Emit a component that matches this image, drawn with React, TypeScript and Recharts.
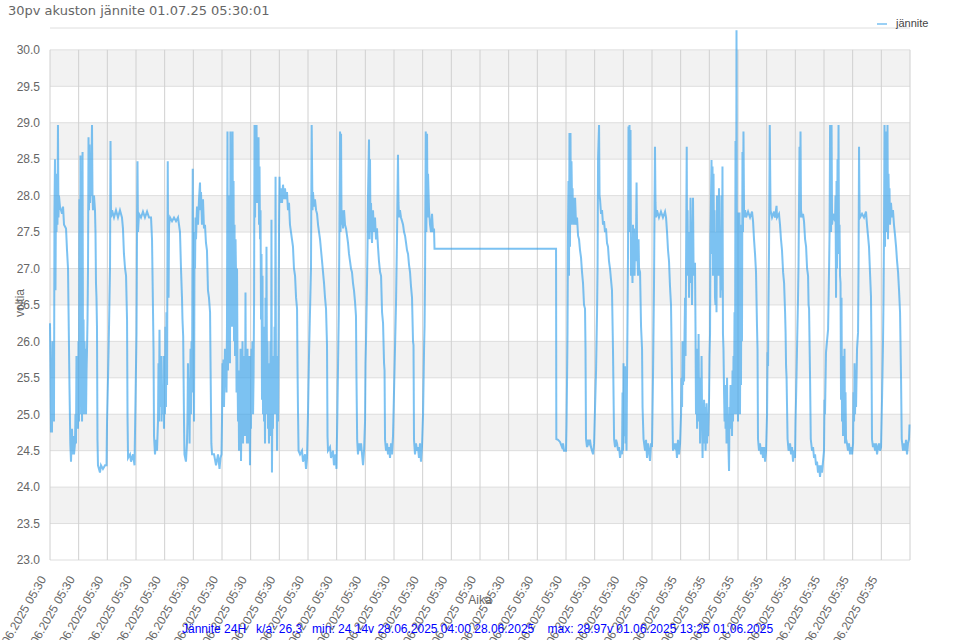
import {CartesianGrid, Line, LineChart, ReferenceLine, XAxis, YAxis} from "recharts";

// 5 minute log, 288 samples per day, started 01.06.2025 05:30
const SAMPLES_PER_DAY = 288;
const TOTAL_SAMPLES = 8640;

const chartTitle = "30pv akuston jännite 01.07.25 05:30:01";
const seriesName = "jännite";
const footerText = "Jännite 24H   k/a: 26.3   min: 24.14v 28.06.2025 04:00 28.06.2025    max: 28.97v 01.06.2025 13:25 01.06.2025";

const dayLabels = [
    "01.06.2025 05:30", "02.06.2025 05:30", "03.06.2025 05:30", "04.06.2025 05:30", "05.06.2025 05:30",
    "06.06.2025 05:30", "07.06.2025 05:30", "08.06.2025 05:30", "09.06.2025 05:30", "10.06.2025 05:30",
    "11.06.2025 05:30", "12.06.2025 05:30", "13.06.2025 05:30", "14.06.2025 05:30", "15.06.2025 05:30",
    "16.06.2025 05:30", "17.06.2025 05:30", "18.06.2025 05:30", "19.06.2025 05:30", "20.06.2025 05:30",
    "21.06.2025 05:30", "22.06.2025 05:30", "23.06.2025 05:35", "24.06.2025 05:35", "25.06.2025 05:35",
    "26.06.2025 05:35", "27.06.2025 05:35", "28.06.2025 05:35", "29.06.2025 05:35", "30.06.2025 05:35",
];

const voltTicks = [23, 23.5, 24, 24.5, 25, 25.5, 26, 26.5, 27, 27.5, 28, 28.5, 29, 29.5, 30];

// [sample number, volts]
const readings: [number, number][] = [
    [0, 26.25], [5, 25.6], [10, 24.75], [15, 25.4], [20, 24.75], [25, 26.0], [30, 25.2], [35, 25.7], [40, 24.9],
    [45, 27.8], [50, 28.5], [55, 26.7], [60, 28.0], [65, 27.5], [70, 28.3], [75, 27.6], [80, 28.97], [85, 27.7],
    [90, 28.0], [100, 27.85], [121, 27.75], [131, 27.85], [141, 27.6], [161, 27.55], [171, 27.25], [181, 27.0],
    [186, 26.45], [191, 25.9], [196, 25.35], [204, 24.6], [211, 24.35], [221, 24.8], [226, 24.45], [236, 24.7],
    [241, 24.45], [251, 24.6], [256, 25.0], [261, 24.6], [266, 25.8], [271, 24.9], [276, 25.6], [281, 24.8],
    [286, 26.0], [291, 24.9], [296, 27.95], [301, 25.0], [306, 28.55], [311, 25.2], [316, 27.0], [322, 24.9],
    [327, 28.6], [332, 25.3], [337, 26.3], [342, 25.0], [347, 26.0], [352, 25.3], [357, 25.9], [362, 25.0],
    [367, 25.6], [372, 25.9], [377, 26.3], [382, 27.0], [387, 28.8], [392, 27.8], [397, 28.7], [402, 27.9],
    [407, 28.5], [412, 28.0], [422, 28.97], [427, 28.0], [432, 27.8], [442, 28.0], [452, 27.8], [457, 27.5],
    [462, 26.8], [467, 26.6], [472, 26.2], [477, 24.65], [482, 24.3], [502, 24.2], [512, 24.3], [532, 24.25],
    [553, 24.3], [568, 24.3], [573, 24.9], [583, 25.5], [593, 26.2], [603, 27.0], [608, 28.75], [613, 27.7],
    [623, 27.8], [643, 27.7], [663, 27.8], [683, 27.7], [703, 27.8], [723, 27.7], [733, 27.55], [743, 27.2],
    [754, 27.0], [764, 26.9], [774, 26.3], [779, 24.95], [784, 24.4], [804, 24.45], [814, 24.35], [834, 24.45],
    [849, 24.3], [859, 25.2], [869, 26.1], [874, 27.4], [879, 28.47], [884, 27.5], [894, 27.75], [914, 27.7],
    [934, 27.78], [954, 27.7], [975, 27.78], [995, 27.7], [1015, 27.7], [1025, 27.4], [1030, 26.9], [1035, 26.4],
    [1040, 25.9], [1045, 24.7], [1055, 24.45], [1065, 24.65], [1075, 24.5], [1085, 24.9], [1090, 25.7],
    [1095, 24.9], [1100, 26.16], [1105, 25.1], [1115, 25.8], [1120, 24.9], [1125, 25.4], [1135, 25.0],
    [1140, 25.8], [1145, 24.8], [1150, 25.7], [1155, 25.0], [1160, 26.2], [1165, 25.1], [1170, 26.4],
    [1176, 25.4], [1183, 28.47], [1186, 27.4], [1191, 26.6], [1196, 27.6], [1206, 27.7], [1226, 27.65],
    [1246, 27.7], [1266, 27.65], [1286, 27.7], [1306, 27.5], [1316, 27.0], [1326, 26.6], [1331, 26.3],
    [1338, 26.07], [1346, 24.93], [1351, 24.45], [1366, 24.35], [1376, 24.6], [1381, 24.9], [1386, 25.7],
    [1391, 24.9], [1397, 25.5], [1402, 24.6], [1407, 25.3], [1412, 25.9], [1417, 25.0], [1422, 26.0],
    [1427, 25.3], [1434, 28.37], [1437, 26.5], [1442, 27.1], [1447, 24.9], [1452, 27.5], [1457, 27.0],
    [1462, 27.7], [1467, 27.4], [1477, 27.85], [1487, 27.6], [1497, 27.95], [1507, 28.18], [1512, 27.8],
    [1517, 28.05], [1527, 27.6], [1537, 27.95], [1547, 27.55], [1557, 27.6], [1567, 27.35], [1577, 27.25],
    [1587, 26.7], [1597, 26.6], [1608, 26.4], [1615, 25.4], [1621, 24.6], [1628, 24.45], [1648, 24.45],
    [1668, 24.3], [1688, 24.45], [1703, 24.25], [1713, 24.4], [1723, 24.45], [1728, 24.9], [1733, 25.7],
    [1738, 25.3], [1743, 25.75], [1748, 25.1], [1753, 25.5], [1758, 25.9], [1768, 25.6], [1773, 25.3],
    [1778, 26.2], [1783, 28.88], [1788, 25.6], [1793, 27.5], [1798, 26.0], [1803, 28.0], [1808, 25.7],
    [1813, 28.88], [1818, 26.4], [1824, 27.9], [1829, 26.2], [1834, 28.88], [1839, 26.8], [1844, 28.2],
    [1849, 26.0], [1854, 27.6], [1859, 25.8], [1864, 27.4], [1869, 26.9], [1874, 25.3], [1879, 27.0],
    [1884, 25.6], [1889, 24.9], [1894, 25.6], [1899, 24.5], [1904, 25.3], [1909, 24.9], [1914, 25.9],
    [1919, 24.36], [1924, 25.2], [1929, 24.8], [1934, 26.0], [1939, 24.6], [1944, 25.5], [1949, 24.9],
    [1954, 25.8], [1959, 24.7], [1964, 26.67], [1969, 24.9], [1974, 25.6], [1979, 24.6], [1984, 25.9],
    [1989, 24.8], [1994, 25.3], [1999, 24.6], [2004, 25.8], [2009, 24.3], [2014, 25.2], [2019, 24.8],
    [2024, 25.9], [2029, 25.3], [2034, 26.0], [2040, 25.0], [2045, 25.5], [2050, 26.5], [2055, 28.97],
    [2060, 27.7], [2065, 28.9], [2070, 28.2], [2075, 28.97], [2080, 27.9], [2085, 28.7], [2090, 28.1],
    [2095, 28.8], [2100, 27.6], [2105, 28.4], [2110, 27.4], [2115, 27.8], [2120, 26.3], [2125, 27.2],
    [2130, 25.2], [2135, 26.9], [2140, 25.0], [2145, 26.2], [2150, 24.9], [2155, 25.6], [2160, 24.6],
    [2165, 26.6], [2170, 25.0], [2175, 27.3], [2180, 25.4], [2185, 26.0], [2190, 24.8], [2195, 25.7],
    [2200, 24.6], [2205, 25.3], [2210, 24.8], [2215, 26.0], [2220, 24.7], [2225, 27.67], [2230, 24.2],
    [2235, 25.4], [2240, 24.8], [2246, 25.8], [2251, 25.0], [2256, 26.2], [2261, 25.3], [2266, 28.26],
    [2271, 25.0], [2276, 25.8], [2281, 24.5], [2286, 25.7], [2291, 24.9], [2296, 26.0], [2301, 27.6],
    [2306, 28.26], [2311, 27.9], [2321, 28.1], [2331, 27.9], [2341, 28.15], [2351, 27.95], [2361, 28.1],
    [2371, 27.95], [2381, 28.05], [2391, 27.8], [2401, 27.9], [2411, 27.6], [2421, 27.5], [2431, 27.4],
    [2441, 27.3], [2451, 27.0], [2462, 26.9], [2472, 26.6], [2482, 26.45], [2487, 25.6], [2492, 25.0],
    [2497, 24.5], [2512, 24.45], [2532, 24.5], [2542, 24.35], [2562, 24.45], [2572, 24.25], [2582, 24.4],
    [2592, 25.0], [2602, 25.8], [2612, 26.4], [2622, 27.0], [2629, 28.97], [2637, 27.8], [2642, 28.05],
    [2652, 27.85], [2662, 27.95], [2673, 27.8], [2683, 27.75], [2693, 27.6], [2703, 27.5], [2713, 27.4],
    [2723, 27.25], [2733, 27.1], [2743, 26.95], [2753, 26.8], [2763, 26.6], [2773, 26.45], [2783, 25.95],
    [2788, 24.7], [2793, 24.5], [2813, 24.55], [2823, 24.4], [2843, 24.5], [2853, 24.3], [2868, 24.45],
    [2878, 24.25], [2888, 25.1], [2894, 25.7], [2901, 26.35], [2907, 27.4], [2914, 28.88], [2919, 27.5],
    [2924, 28.85], [2929, 27.6], [2934, 27.8], [2944, 27.55], [2954, 27.8], [2964, 27.6], [2974, 27.55],
    [2984, 27.45], [2994, 27.35], [3004, 27.2], [3014, 27.1], [3024, 27.0], [3034, 26.95], [3044, 26.8],
    [3054, 26.7], [3064, 26.55], [3074, 26.35], [3079, 25.5], [3086, 24.65], [3094, 24.45], [3104, 24.6],
    [3115, 24.5], [3125, 24.6], [3135, 24.45], [3145, 24.3], [3155, 24.5], [3165, 24.9], [3170, 25.7],
    [3175, 26.0], [3185, 26.8], [3190, 27.3], [3195, 28.0], [3205, 28.77], [3210, 27.4], [3215, 28.5],
    [3220, 27.5], [3225, 27.9], [3235, 27.35], [3245, 27.8], [3255, 27.5], [3265, 27.7], [3275, 27.4],
    [3285, 27.55], [3295, 27.3], [3305, 27.1], [3316, 26.95], [3326, 26.9], [3336, 26.4], [3346, 26.25],
    [3356, 25.7], [3361, 25.6], [3366, 24.65], [3376, 24.5], [3386, 24.6], [3396, 24.45], [3406, 24.55],
    [3416, 24.4], [3426, 24.6], [3436, 24.45], [3446, 24.7], [3456, 25.3], [3466, 25.9], [3476, 26.5],
    [3486, 27.4], [3496, 28.56], [3501, 27.9], [3506, 27.7], [3516, 27.8], [3526, 27.7], [3537, 27.65],
    [3547, 27.6], [3557, 27.5], [3567, 27.45], [3577, 27.35], [3587, 27.25], [3597, 27.2], [3607, 27.05],
    [3617, 26.95], [3627, 26.75], [3637, 26.6], [3647, 26.0], [3652, 25.95], [3657, 24.65], [3667, 24.45],
    [3677, 24.6], [3687, 24.5], [3697, 24.55], [3707, 24.4], [3717, 24.6], [3727, 24.35], [3737, 24.55],
    [3748, 25.0], [3758, 25.9], [3763, 26.2], [3768, 26.9], [3775, 28.88], [3781, 27.5], [3788, 28.85],
    [3793, 27.7], [3798, 28.3], [3808, 27.8], [3818, 27.6], [3828, 27.5], [3838, 27.75], [3848, 27.5],
    [3858, 27.55], [3863, 27.27],
    // logger stalled, last value repeated
    [5084, 27.27],
    [5087, 24.66], [5104, 24.65], [5124, 24.62], [5144, 24.55], [5154, 24.6], [5164, 24.5], [5184, 24.5],
    [5189, 24.85], [5194, 25.4], [5199, 26.1], [5204, 27.5], [5209, 28.2], [5214, 26.9], [5219, 28.86],
    [5224, 27.3], [5229, 28.86], [5234, 27.6], [5239, 28.47], [5245, 27.9], [5250, 28.1], [5255, 27.6],
    [5260, 27.97], [5265, 27.6], [5275, 27.97], [5285, 27.6], [5295, 27.7], [5305, 27.45], [5315, 27.4],
    [5325, 27.25], [5335, 27.15], [5345, 26.95], [5355, 26.8], [5365, 26.5], [5375, 26.45], [5380, 25.9],
    [5385, 24.66], [5395, 24.55], [5405, 24.65], [5415, 24.6], [5425, 24.65], [5435, 24.55], [5445, 24.5],
    [5456, 24.45], [5466, 24.6], [5476, 25.1], [5486, 25.6], [5496, 26.4], [5501, 27.0], [5506, 28.5],
    [5516, 28.97], [5521, 28.0], [5526, 27.95], [5536, 27.75], [5546, 27.8], [5556, 27.6], [5566, 27.65],
    [5576, 27.5], [5586, 27.55], [5596, 27.35], [5606, 27.3], [5616, 27.1], [5626, 27.0], [5636, 26.85],
    [5646, 26.7], [5656, 25.9], [5667, 24.66], [5677, 24.55], [5687, 24.65], [5697, 24.6], [5707, 24.5],
    [5717, 24.55], [5727, 24.4], [5737, 24.5], [5747, 24.45], [5752, 25.3], [5757, 24.5], [5762, 25.7],
    [5767, 24.7], [5772, 25.1], [5777, 25.66], [5782, 24.6], [5787, 25.3], [5792, 24.5], [5797, 25.5],
    [5802, 26.3], [5807, 27.2], [5812, 28.95], [5817, 28.2], [5822, 28.97], [5827, 27.5], [5832, 28.9],
    [5837, 26.9], [5847, 27.1], [5852, 26.8], [5857, 27.6], [5862, 27.0], [5867, 27.55], [5873, 26.9],
    [5878, 27.45], [5883, 27.1], [5888, 27.5], [5893, 28.18], [5898, 27.3], [5908, 26.9], [5913, 27.4],
    [5918, 27.0], [5928, 26.95], [5938, 26.2], [5948, 25.9], [5953, 25.1], [5963, 24.66], [5978, 24.5],
    [5988, 24.65], [5998, 24.4], [6008, 24.6], [6018, 24.5], [6028, 24.36], [6038, 24.6], [6048, 24.55],
    [6058, 25.5], [6068, 26.75], [6078, 28.67], [6083, 27.9], [6088, 27.7], [6098, 27.8], [6118, 27.7],
    [6138, 27.78], [6158, 27.7], [6179, 27.78], [6189, 27.7], [6199, 27.5], [6209, 27.25], [6219, 27.1],
    [6229, 26.75], [6239, 26.5], [6244, 26.0], [6254, 24.93], [6259, 24.5], [6269, 24.6], [6279, 24.55],
    [6289, 24.6], [6299, 24.4], [6309, 24.65], [6319, 24.45], [6330, 24.6], [6340, 25.0], [6345, 25.5],
    [6350, 25.1], [6355, 26.0], [6360, 25.4], [6365, 25.9], [6370, 25.45], [6375, 26.1], [6380, 26.6],
    [6385, 25.8], [6390, 27.0], [6397, 28.67], [6400, 27.2], [6405, 27.8], [6410, 26.9], [6415, 27.5],
    [6420, 26.6], [6425, 27.3], [6430, 26.8], [6435, 27.97], [6440, 27.0], [6445, 27.6], [6450, 26.5],
    [6455, 27.4], [6460, 27.97], [6465, 27.1], [6470, 26.9], [6480, 27.08], [6485, 26.2], [6490, 25.0],
    [6495, 25.9], [6501, 24.8], [6506, 25.6], [6511, 24.9], [6516, 26.1], [6521, 25.0], [6526, 25.5],
    [6531, 24.6], [6536, 25.2], [6541, 24.9], [6546, 25.8], [6551, 25.0], [6556, 24.4], [6561, 25.1],
    [6566, 24.6], [6571, 25.2], [6576, 24.8], [6581, 25.1], [6586, 24.5], [6591, 24.9], [6596, 25.15],
    [6601, 24.6], [6606, 25.0], [6611, 24.7], [6621, 25.2], [6626, 25.8], [6631, 26.1], [6636, 27.5],
    [6641, 28.0], [6646, 28.49], [6651, 27.2], [6656, 28.4], [6661, 26.9], [6666, 28.3], [6671, 27.3],
    [6676, 27.8], [6681, 26.6], [6686, 26.5], [6691, 27.5], [6696, 26.4], [6701, 28.0], [6706, 26.9],
    [6711, 27.3], [6716, 27.0], [6721, 28.1], [6726, 26.9], [6731, 27.4], [6736, 26.6], [6741, 27.0],
    [6746, 28.0], [6751, 26.7], [6756, 28.4], [6761, 26.1], [6766, 25.9], [6772, 25.3], [6777, 24.9],
    [6782, 25.4], [6787, 24.8], [6792, 25.2], [6797, 24.6], [6802, 25.5], [6807, 24.7], [6812, 25.0],
    [6817, 24.5], [6822, 24.22], [6827, 25.1], [6832, 24.8], [6837, 25.4], [6842, 24.9], [6847, 25.3],
    [6852, 24.7], [6857, 25.6], [6862, 24.9], [6867, 25.8], [6872, 25.0], [6877, 26.4], [6882, 25.2],
    [6887, 28.75], [6892, 25.0], [6897, 30.27], [6902, 25.1], [6907, 27.77], [6912, 24.9], [6917, 27.7],
    [6922, 25.3], [6927, 27.77], [6932, 25.0], [6937, 26.5], [6942, 25.4], [6947, 27.6], [6952, 26.0],
    [6957, 28.6], [6962, 27.5], [6967, 28.88], [6973, 27.7], [6983, 27.8], [6993, 27.7], [7013, 27.78],
    [7033, 27.7], [7053, 27.78], [7063, 27.65], [7073, 27.4], [7083, 27.2], [7093, 26.95], [7103, 26.2],
    [7108, 25.9], [7113, 24.66], [7123, 24.5], [7133, 24.6], [7143, 24.45], [7153, 24.55], [7163, 24.4],
    [7174, 24.55], [7184, 24.35], [7194, 24.5], [7204, 25.0], [7209, 25.85], [7214, 25.66], [7219, 26.58],
    [7224, 27.3], [7231, 28.97], [7239, 27.8], [7254, 27.7], [7274, 27.78], [7284, 27.7], [7299, 27.86],
    [7304, 27.7], [7324, 27.75], [7334, 27.6], [7344, 27.4], [7354, 27.25], [7365, 26.95], [7375, 26.8],
    [7385, 26.4], [7390, 26.12], [7395, 25.66], [7400, 25.5], [7410, 24.66], [7420, 24.5], [7435, 24.6],
    [7445, 24.45], [7455, 24.55], [7465, 24.35], [7475, 24.5], [7485, 24.4], [7490, 24.9], [7495, 25.2],
    [7505, 25.9], [7515, 26.6], [7520, 27.03], [7530, 28.67], [7535, 27.7], [7540, 28.88], [7545, 27.8],
    [7555, 27.7], [7565, 27.75], [7575, 27.65], [7586, 27.4], [7596, 27.3], [7606, 27.0], [7616, 26.9],
    [7621, 26.5], [7626, 26.45], [7636, 25.5], [7643, 24.66], [7656, 24.5], [7666, 24.55], [7676, 24.4],
    [7686, 24.45], [7696, 24.3], [7706, 24.35], [7716, 24.2], [7726, 24.3], [7736, 24.14], [7746, 24.3],
    [7756, 24.2], [7766, 24.35], [7776, 24.5], [7781, 25.2], [7786, 25.0], [7796, 25.85], [7806, 26.0],
    [7817, 26.16], [7827, 27.0], [7832, 27.5], [7837, 28.97], [7847, 27.5], [7852, 28.97], [7857, 27.6],
    [7867, 27.75], [7877, 27.7], [7887, 27.65], [7892, 28.0], [7897, 26.6], [7902, 28.2], [7907, 27.0],
    [7912, 28.5], [7917, 27.3], [7922, 28.97], [7927, 27.2], [7932, 27.6], [7937, 26.9], [7942, 26.8],
    [7947, 25.2], [7952, 26.6], [7957, 24.9], [7962, 25.8], [7967, 24.7], [7972, 25.5], [7977, 24.8],
    [7982, 25.9], [7987, 24.6], [7992, 25.3], [7997, 24.66], [8007, 24.6], [8017, 24.5], [8027, 24.6],
    [8038, 24.45], [8048, 24.55], [8058, 24.45], [8068, 24.6], [8073, 25.3], [8078, 24.9], [8083, 25.7],
    [8088, 25.0], [8093, 25.6], [8098, 25.1], [8108, 25.9], [8118, 26.12], [8123, 27.0], [8128, 28.67],
    [8133, 27.8], [8138, 27.7], [8158, 27.75], [8178, 27.7], [8198, 27.78], [8208, 27.6], [8218, 27.45],
    [8228, 27.3], [8238, 26.95], [8248, 26.62], [8253, 25.9], [8258, 24.66], [8268, 24.55], [8278, 24.6],
    [8289, 24.5], [8299, 24.6], [8309, 24.45], [8319, 24.55], [8329, 24.6], [8339, 24.5], [8349, 24.55],
    [8359, 25.2], [8369, 26.0], [8374, 26.6], [8379, 27.5], [8384, 28.97], [8389, 27.3], [8394, 28.88],
    [8399, 27.5], [8404, 28.6], [8409, 27.6], [8414, 28.97], [8419, 27.4], [8424, 28.3], [8429, 27.9],
    [8434, 28.1], [8439, 27.6], [8449, 27.9], [8459, 27.7], [8469, 27.8], [8479, 27.6], [8490, 27.45],
    [8500, 27.3], [8510, 27.1], [8520, 26.95], [8530, 26.7], [8540, 26.4], [8550, 25.5], [8557, 24.66],
    [8570, 24.5], [8580, 24.6], [8590, 24.5], [8600, 24.65], [8610, 24.45], [8620, 24.6], [8630, 24.66],
    [8635, 24.86],
];

const data = readings.map(([sample, volts]) => ({sample, volts}));
const dayTicks = dayLabels.map((_, i) => i * SAMPLES_PER_DAY);
const gridTicks = [...dayTicks, TOTAL_SAMPLES];

const LINE_BLUE = "rgb(54, 162, 235)";
const AXIS_FONT = "'Liberation Sans', Arial, sans-serif";


function DayTick(props: any) {
    const {x, y, payload} = props;
    const label = dayLabels[Math.round(payload.value / SAMPLES_PER_DAY)];
    if (!label) return null;
    const tx = x - 7;
    const ty = y + 9;
    return <text x={tx} y={ty} dy="0.35em" textAnchor="end" fontSize={12} fill="#666"
                 fontFamily={AXIS_FONT} transform={`rotate(-60 ${tx} ${ty})`}>{label}</text>;
}


export default function App() {
    return <div style={{position: 'absolute', left: 0, top: 0, width: 960, height: 640, background: '#fff'}}>
        <LineChart width={960} height={640} data={data} margin={{top: 28, right: 50, bottom: 0, left: 0}}>
            <CartesianGrid vertical={false} stroke="#dedede" horizontalFill={['none', '#f2f2f2']}/>
            {gridTicks.map(s => (
                <ReferenceLine key={s} segment={[{x: s, y: 23}, {x: s, y: 30}]} stroke="#d0d0d0"/>
            ))}
            <XAxis type="number" dataKey="sample" domain={[0, TOTAL_SAMPLES]} ticks={dayTicks}
                   interval={0} height={80} axisLine={false} tickLine={false} tick={<DayTick/>}/>
            <YAxis type="number" domain={[23, 30.3]} allowDataOverflow ticks={voltTicks} interval={0}
                   width={50} axisLine={false} tickLine={false} tickMargin={4}
                   tickFormatter={(v: number) => v.toFixed(1)}
                   tick={{fontSize: 12, fill: '#666', fontFamily: AXIS_FONT}}/>
            <Line type="linear" dataKey="volts" stroke={LINE_BLUE} strokeOpacity={0.65} strokeWidth={2}
                  dot={false} activeDot={false} isAnimationActive={false}/>
        </LineChart>
        <svg width={960} height={640} style={{position: 'absolute', left: 0, top: 0, pointerEvents: 'none'}}>
            <text x={8} y={15} fontSize={13} fill="#666" fontFamily="'DejaVu Sans', sans-serif">{chartTitle}</text>
            <line x1={877} x2={887} y1={24} y2={24} stroke={LINE_BLUE} strokeOpacity={0.5} strokeWidth={2}/>
            <text x={896} y={27} fontSize={11} fill="#444" fontFamily={AXIS_FONT}>{seriesName}</text>
            <text x={24} y={303} fontSize={12} fill="#666" fontFamily={AXIS_FONT} textAnchor="middle"
                  transform="rotate(-90 24 303)">voltia</text>
            <text x={480} y={604} fontSize={12} fill="#666" fontFamily={AXIS_FONT} textAnchor="middle">Aika</text>
            <text x={182} y={633} fontSize={12} fill="#0000ff" fontFamily={AXIS_FONT}
                  style={{whiteSpace: 'pre'}}>{footerText}</text>
        </svg>
    </div>;
}
